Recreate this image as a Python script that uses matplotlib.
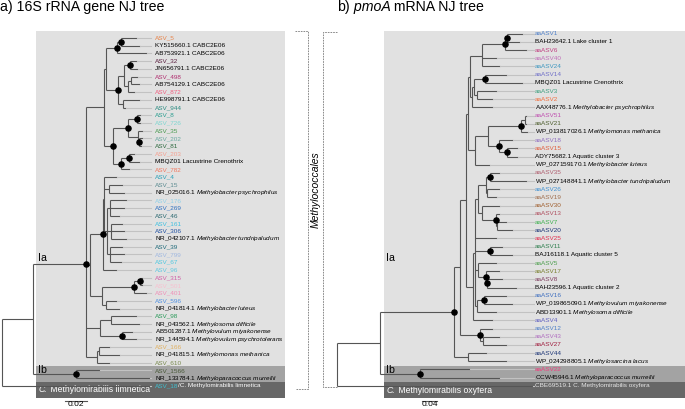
import matplotlib.pyplot as plt

plt.rcParams['font.family'] = ['Liberation Sans', 'DejaVu Sans']
plt.rcParams['mathtext.fontset'] = 'custom'
plt.rcParams['mathtext.rm'] = 'Liberation Sans'
plt.rcParams['mathtext.it'] = 'Liberation Sans:italic'

W, H = 685, 409

# ---------------- a) 16S rRNA gene NJ tree ----------------
labels_a = ["ASV_5", "KY515660.1 CABC2E06", "AB753921.1 CABC2E06", "ASV_32",
            "JN656791.1 CABC2E06", "ASV_498", "AB754129.1 CABC2E06", "ASV_872",
            "HE998791.1 CABC2E06", "ASV_944", "ASV_8", "ASV_726", "ASV_35", "ASV_202",
            "ASV_81", "ASV_203", "MBQZ01 Lacustrine Crenothrix", "ASV_782", "ASV_4",
            "ASV_15", r"NR_025016.1 $\mathit{Methylobacter\ psychrophilus}$", "ASV_176",
            "ASV_269", "ASV_46", "ASV_161", "ASV_306",
            r"NR_042107.1 $\mathit{Methylobacter\ tundripaludum}$", "ASV_39", "ASV_799",
            "ASV_67", "ASV_96", "ASV_315", "ASV_501", "ASV_401", "ASV_596",
            r"NR_041814.1 $\mathit{Methylobacter\ luteus}$", "ASV_98",
            r"NR_043562.1 $\mathit{Methylosoma\ difficile}$",
            r"AB501287.1 $\mathit{Methylovulum\ miyakonense}$",
            r"NR_144594.1 $\mathit{Methylovulum\ psychrotolerans}$", "ASV_166",
            r"NR_041815.1 $\mathit{Methylomonas\ methanica}$", "ASV_610", "ASV_1566",
            r"NR_133784.1 $\mathit{Methyloparacoccus\ murrellii}$", "ASV_18"]
suffix_a = "/C. Methylomirabilis limnetica"
colors_a = ["#e8844a", None, None, "#5a2040", None, "#b03070", None, "#f06080",
            None, "#2a8a80", "#2a9d8f", "#7fd6d0", "#4a9a50", "#6aa8a0", "#2e6a40",
            "#f4a090", None, "#f07860", "#2aa0b8", "#5a8a90", None, "#90d0e8",
            "#3070c0", "#2a6870", "#40c0e0", "#2050a0", None, "#1f6a7a", "#a0b8e0",
            "#50c8e0", "#60c8e0", "#d060a8", "#f8c0d0", "#f090b8", "#5090e0", None,
            "#2a9a5a", None, None, None, "#e0b060", None, "#7a8a50", "#4a5a3a", None,
            "#40c0d0"]
tip_parent_a = [6, 6, 5, 9, 9, 11, 11, 10, 12, 12, 15, 15, 16, 17, 17, 19, 19, 18,
                22, 23, 23, 25, 25, 25, 26, 26, 26, 27, 27, 27, 21, 30, 30, 29, 31, 31,
                33, 33, 34, 34, 36, 36, 35, 37, 37, 0]
tip_depth_a = [0.1227, 0.1255, 0.1318, 0.1227, 0.1236, 0.1236, 0.1255, 0.1209,
               0.1255, 0.1127, 0.1264, 0.1264, 0.1282, 0.1282, 0.1273, 0.1209, 0.1255,
               0.1164, 0.1045, 0.1100, 0.1118, 0.1136, 0.1118, 0.1073, 0.1100, 0.1118,
               0.1136, 0.1100, 0.1118, 0.1091, 0.1045, 0.1282, 0.1282, 0.1318, 0.1045,
               0.1073, 0.1227, 0.1255, 0.1191, 0.1227, 0.0982, 0.1073, 0.0982, 0.0891,
               0.1345, 0.1345]
node_parent_a = [-1, 0, 1, 2, 3, 4, 5, 4, 7, 8, 8, 10, 7, 3, 13, 14, 14, 16, 13, 18,
                 2, 20, 21, 22, 22, 24, 24, 24, 20, 28, 29, 28, 2, 32, 32, 2, 35, 1]
node_depth_a = [0.0, 0.0282, 0.0764, 0.0927, 0.0945, 0.1045, 0.1082, 0.1055, 0.1109,
                0.1164, 0.1145, 0.1173, 0.1097, 0.1009, 0.1145, 0.1225, 0.1236, 0.1248,
                0.1082, 0.1155, 0.0800, 0.0915, 0.0923, 0.0973, 0.0955, 0.0982, 0.0991,
                0.0982, 0.0906, 0.1203, 0.1255, 0.0945, 0.0891, 0.0991, 0.1088, 0.0864,
                0.0882, 0.0673]
support_a = [2, 5, 6, 7, 9, 13, 14, 15, 17, 18, 19, 21, 29, 30, 34, 37]
scale_a = 0.02

# ---------------- b) pmoA mRNA NJ tree ----------------
labels_b = ["aaASV1", "BAH23642.1 Lake cluster 1", "aaASV6", "aaASV40", "aaASV24",
            "aaASV14", "MBQZ01 Lacustrine Crenothrix", "aaASV3", "aaASV2",
            r"AAX48776.1 $\mathit{Methylobacter\ psychrophilus}$", "aaASV51", "aaASV21",
            r"WP_013817026.1 $\mathit{Methylomonas\ methanica}$", "aaASV18", "aaASV15",
            "ADY75682.1 Aquatic cluster 3",
            r"WP_027159170.1 $\mathit{Methylobacter\ luteus}$", "aaASV35",
            r"WP_027148841.1 $\mathit{Methylobacter\ tundripaludum}$", "aaASV26",
            "aaASV19", "aaASV30", "aaASV13", "aaASV7", "aaASV20", "aaASV25", "aaASV11",
            "BAJ16118.1 Aquatic cluster 5", "aaASV5", "aaASV17", "aaASV8",
            "BAH23596.1 Aquatic cluster 2", "aaASV16",
            r"WP_019865090.1 $\mathit{Methylovulum\ miyakonense}$",
            r"ABD13901.1 $\mathit{Methylosoma\ difficile}$", "aaASV4", "aaASV12",
            "aaASV43", "aaASV27", "aaASV44",
            r"WP_024298805.1 $\mathit{Methylosarcina\ lacus}$", "aaASV22",
            r"CCW45946.1 $\mathit{Methyloparacoccus\ murrellii}$",
            "CBE69519.1 C. Methylomirabilis oxyfera"]
colors_b = ["#5080c8", None, "#c04080", "#c070b8", "#4098c0", "#7070c8", None,
            "#40a080", "#f07040", None, "#c050b0", "#506030", None, "#9070c0",
            "#e06040", None, None, "#b06070", None, "#4090d0", "#a07050", "#a06030",
            "#b05060", "#40b050", "#203878", "#e03050", "#308050", None, "#50a050",
            "#7a8030", "#804060", None, "#4070c0", None, None, "#6060c0", "#5080c8",
            "#b070c0", "#a02040", "#203878", None, "#f04080", None, "#e6e6e6"]
tip_parent_b = [13, 13, 12, 11, 11, 16, 16, 17, 17, 14, 21, 21, 20, 22, 23, 23, 18,
                28, 28, 29, 29, 30, 31, 32, 32, 25, 33, 33, 34, 35, 36, 36, 38, 38, 37,
                24, 6, 7, 7, 5, 5, 3, 3, 0]
tip_depth_b = [0.4960, 0.4880, 0.5067, 0.4259, 0.4347, 0.4533, 0.4960, 0.4267,
               0.4160, 0.4160, 0.5067, 0.5067, 0.5093, 0.4693, 0.4827, 0.4827, 0.4080,
               0.4347, 0.5067, 0.4347, 0.4267, 0.4347, 0.4347, 0.4533, 0.4693, 0.4267,
               0.4427, 0.4693, 0.4267, 0.4347, 0.4427, 0.4800, 0.4533, 0.4693, 0.4267,
               0.4160, 0.4160, 0.4347, 0.4533, 0.4000, 0.4533, 0.3547, 0.4347, 0.5227]
node_parent_b = [-1, 0, 1, 1, 2, 2, 4, 6, 4, 8, 9, 10, 11, 12, 10, 14, 15, 15, 9, 18,
                 19, 20, 19, 22, 8, 24, 25, 26, 27, 27, 26, 30, 31, 25, 25, 34, 35, 25,
                 37]
node_depth_b = [0.0, 0.1147, 0.3120, 0.2213, 0.3280, 0.3485, 0.3821, 0.3885, 0.3440,
                0.3493, 0.3547, 0.3859, 0.4480, 0.4525, 0.3592, 0.3653, 0.3947, 0.3725,
                0.3680, 0.4027, 0.4899, 0.5013, 0.4320, 0.4525, 0.3627, 0.3680, 0.3760,
                0.3973, 0.4080, 0.4000, 0.3859, 0.4232, 0.4267, 0.4080, 0.3760, 0.3965,
                0.3992, 0.3733, 0.3920]
support_b = [2, 3, 6, 12, 13, 16, 20, 22, 23, 28, 31, 33, 35, 36, 38]
scale_b = 0.04

LINE = '#555555'
LIGHT = '#c2c2c2'

fig = plt.figure(figsize=(W / 100, H / 100), dpi=100)
renderer = fig.canvas.get_renderer()

# overlay in pixel coordinates (boxes, titles, brackets)
ov = fig.add_axes([0, 0, 1, 1])
ov.set_xlim(0, W)
ov.set_ylim(H, 0)
ov.axis('off')


def box(x0, x1, y0, y1, color):
    ov.add_patch(plt.Rectangle((x0, y0), x1 - x0, y1 - y0, color=color, lw=0, zorder=0))


def run_text(ax, x, y, parts, **kw):
    # draw consecutive pieces of text, each with its own style
    for s, style in parts:
        t = ax.text(x, y, s, fontstyle=style, **kw)
        bb = t.get_window_extent(renderer=renderer)
        x = ax.transData.inverted().transform((bb.x1, bb.y0))[0]


for x0, x1 in [(36, 285), (384, 685)]:
    box(x0, x1, 30.5, 366, '#e1e1e1')
    box(x0, x1, 366, 382, '#a3a3a3')
    box(x0, x1, 382, 397.5, '#676767')

ov.text(0, 11, "a) 16S rRNA gene NJ tree", fontsize=10.2, va='baseline')
run_text(ov, 337, 11, [("b)", 'normal'), (" pmoA", 'italic'),
                       (" mRNA NJ tree", 'normal')], fontsize=10.2, va='baseline')
for x in (38, 386):
    ov.text(x, 258, "Ia", fontsize=7.6, va='center')
    ov.text(x, 370, "Ib", fontsize=7.6, va='center')
run_text(ov, 39, 390, [("C.", 'italic'), (" Methylomirabilis limnetica", 'normal')],
         color='white', fontsize=6.2, va='center')
run_text(ov, 387, 390.5, [("C.", 'italic'), (" Methylomirabilis oxyfera", 'normal')],
         color='white', fontsize=6.2, va='center')

dash = dict(color='#777777', lw=0.6, ls=(0, (2, 1.2)))
ov.plot([295, 308, 308, 295], [31, 31, 389, 389], **dash)
ov.plot([337, 323, 323, 337], [31.5, 31.5, 387, 387], **dash)
ov.text(316, 190, "Methylococcales", rotation=90, fontstyle='italic',
        fontsize=7.5, ha='center', va='center')


def tree_axes(x_root, px_unit, y0, dy):
    ax = fig.add_axes([0, 0, 1, 1])
    ax.set_xlim(-x_root / px_unit, (W - x_root) / px_unit)
    ax.set_ylim((H - y0) / dy, -y0 / dy)
    ax.axis('off')
    ax.patch.set_alpha(0)
    return ax


def draw_tree(ax, labels, colors, tip_parent, tip_depth, node_parent, node_depth,
              support, label_x, scale, scale_x, scale_y):
    n = len(node_parent)
    kids = [[] for _ in range(n)]
    for i, p in enumerate(node_parent):
        if p >= 0:
            kids[p].append(('n', i))
    for i, p in enumerate(tip_parent):
        kids[p].append(('t', i))
    ys = [None] * n

    def y_of(k):
        kind, i = k
        if kind == 't':
            return float(i)
        if ys[i] is None:
            ys[i] = sum(y_of(c) for c in kids[i]) / len(kids[i])
        return ys[i]

    y_of(('n', 0))
    for i in range(n):
        cy = [y_of(c) for c in kids[i]]
        ax.plot([node_depth[i]] * 2, [min(cy), max(cy)], color=LINE, lw=0.8,
                solid_capstyle='butt')
        if node_parent[i] >= 0:
            ax.plot([node_depth[node_parent[i]], node_depth[i]], [ys[i]] * 2,
                    color=LINE, lw=0.8, solid_capstyle='butt')
    gap = (label_x - max(tip_depth)) * 0.7
    for i, p in enumerate(tip_parent):
        ax.plot([node_depth[p], tip_depth[i]], [i, i], color=LINE, lw=0.8,
                solid_capstyle='butt')
        if tip_depth[i] < label_x - gap:
            ax.plot([tip_depth[i], label_x - gap], [i, i], color=LIGHT, lw=0.8)
        ax.text(label_x, i, labels[i], color=colors[i] or 'black', fontsize=4.6,
                va='center', ha='left')
    ax.plot([node_depth[i] for i in support], [ys[i] for i in support], 'o',
            color='black', ms=3.7, zorder=5)
    ax.plot([scale_x, scale_x + scale], [scale_y, scale_y], color='#555555', lw=0.8)
    ax.text(scale_x + scale / 2, scale_y + 0.12, f"{scale:g}", fontsize=6,
            ha='center', va='top')


ax_a = tree_axes(2, 1100, 38, 7.73)
draw_tree(ax_a, labels_a, colors_a, tip_parent_a, tip_depth_a, node_parent_a,
          node_depth_a, support_a, 0.1391, scale_a, 0.0573, (400.5 - 38) / 7.73)
ax_b = tree_axes(337, 375, 33.7, 8.19)
draw_tree(ax_b, labels_b, colors_b, tip_parent_b, tip_depth_b, node_parent_b,
          node_depth_b, support_b, 0.528, scale_b, 0.2267, (400.5 - 33.7) / 8.19)

# second colour for the panel a outgroup label
t = ax_a.texts[len(labels_a) - 1]
bb = t.get_window_extent(renderer=renderer)
x_end = ax_a.transData.inverted().transform((bb.x1, bb.y0))[0]
ax_a.text(x_end, len(labels_a) - 1, suffix_a, color='white', fontsize=4.6,
          va='center', ha='left')

fig.savefig('out.png', dpi=100)
